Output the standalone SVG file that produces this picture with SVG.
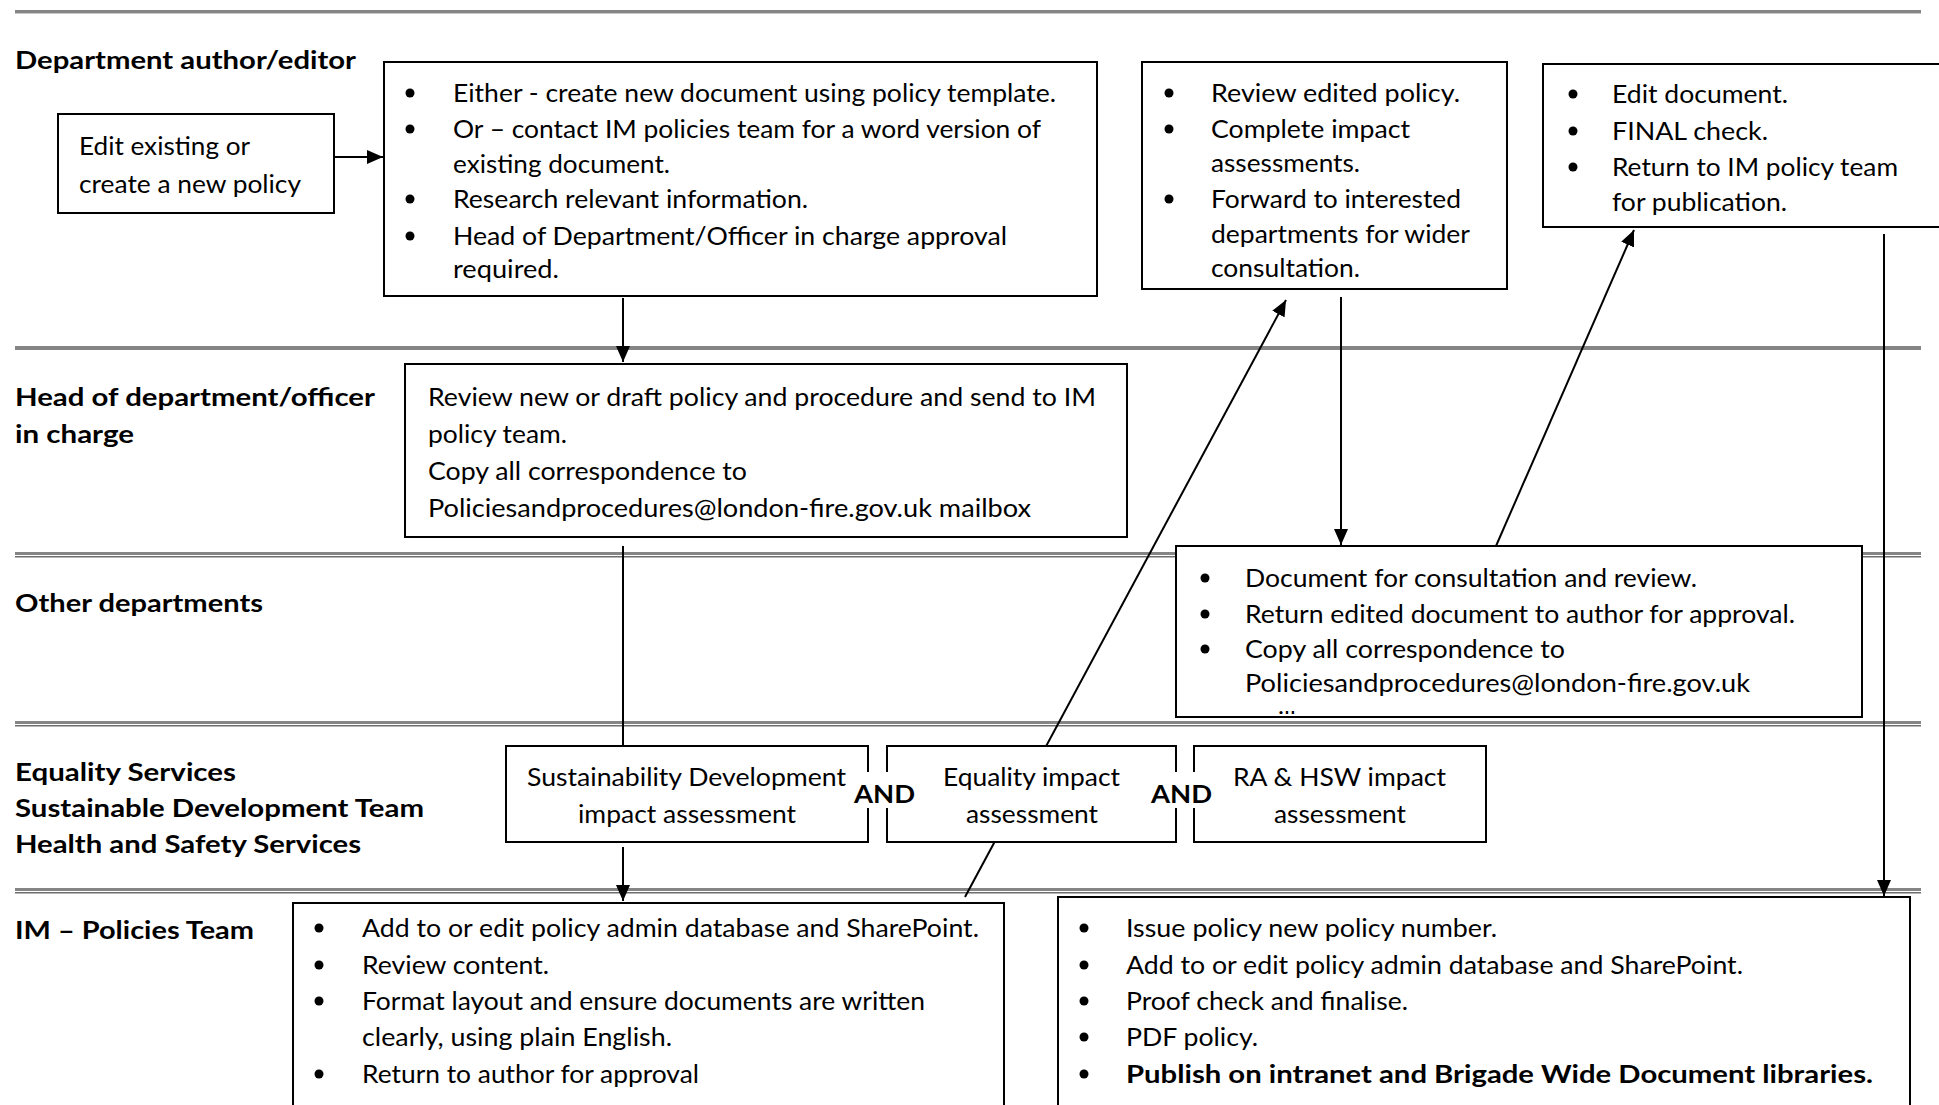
<svg xmlns="http://www.w3.org/2000/svg" width="1939" height="1105" viewBox="0 0 1939 1105">
<style>
.t{font-family:Lato,"Open Sans","Liberation Sans",sans-serif;font-size:25px;fill:#000}
.b{font-weight:700}
.box{fill:#fff;stroke:#000;stroke-width:2}
.c{stroke:#000;stroke-width:2;fill:none}
.ca{stroke:#000;stroke-width:2;fill:none;marker-end:url(#ah)}
.lane{fill:#858585}
.lane2{fill:#6e6e6e}
.dot{fill:#000}
</style>
<defs>
<marker id="ah" markerUnits="userSpaceOnUse" markerWidth="16" markerHeight="14" viewBox="0 0 16 14" refX="16" refY="7" orient="auto">
<path d="M0,0 L16,7 L0,14 Z" fill="#000"/>
</marker>
<clipPath id="clipF"><rect x="1177" y="547" width="684" height="167"/></clipPath>
</defs>
<rect width="1939" height="1105" fill="#fff"/>
<g id="lanes">
<rect class="lane" x="15" y="10" width="1906" height="3"/>
<rect x="15" y="13" width="1906" height="1" fill="#c8c8c8"/>
<rect class="lane" x="15" y="346" width="1906" height="4"/>
<rect class="lane" x="15" y="552" width="1906" height="3"/>
<rect class="lane2" x="15" y="556" width="1906" height="1.5"/>
<rect class="lane" x="15" y="721" width="1906" height="3"/>
<rect class="lane2" x="15" y="725" width="1906" height="1.5"/>
<rect class="lane" x="15" y="888" width="1906" height="3"/>
<rect class="lane2" x="15" y="892" width="1906" height="1.5"/>
</g>
<g id="lane-labels" class="t b">
<text x="15" y="69" textLength="341" lengthAdjust="spacingAndGlyphs">Department author/editor</text>
<text x="15" y="406" textLength="360" lengthAdjust="spacingAndGlyphs">Head of department/officer</text>
<text x="15" y="443" textLength="119" lengthAdjust="spacingAndGlyphs">in charge</text>
<text x="15" y="612" textLength="248" lengthAdjust="spacingAndGlyphs">Other departments</text>
<text x="15" y="781" textLength="221" lengthAdjust="spacingAndGlyphs">Equality Services</text>
<text x="15" y="817" textLength="409" lengthAdjust="spacingAndGlyphs">Sustainable Development Team</text>
<text x="15" y="853" textLength="346" lengthAdjust="spacingAndGlyphs">Health and Safety Services</text>
<text x="15" y="939" textLength="239" lengthAdjust="spacingAndGlyphs">IM – Policies Team</text>
</g>
<g id="connectors">
<line class="ca" x1="335" y1="157" x2="383" y2="157"/>
<line class="ca" x1="623" y1="298" x2="623" y2="362"/>
<line class="c" x1="623" y1="546" x2="623" y2="746"/>
<line class="ca" x1="623" y1="847" x2="623" y2="901"/>
<line class="ca" x1="965" y1="897" x2="1286" y2="300"/>
<line class="ca" x1="1341" y1="297" x2="1341" y2="545"/>
<line class="ca" x1="1496" y1="546" x2="1634" y2="230"/>
<line class="ca" x1="1884" y1="234" x2="1884" y2="896"/>
</g>
<g id="node-edit">
<rect class="box" x="58" y="114" width="276" height="99"/>
<text class="t" x="79" y="155" textLength="171" lengthAdjust="spacingAndGlyphs">Edit existing or</text>
<text class="t" x="79" y="193" textLength="222" lengthAdjust="spacingAndGlyphs">create a new policy</text>
</g>
<g id="node-create">
<rect class="box" x="384" y="62" width="713" height="234"/>
<circle class="dot" cx="410" cy="93" r="4.5"/>
<circle class="dot" cx="410" cy="129" r="4.5"/>
<circle class="dot" cx="410" cy="199" r="4.5"/>
<circle class="dot" cx="410" cy="236" r="4.5"/>
<text class="t" x="453" y="102" textLength="603" lengthAdjust="spacingAndGlyphs">Either - create new document using policy template.</text>
<text class="t" x="453" y="138" textLength="588" lengthAdjust="spacingAndGlyphs">Or – contact IM policies team for a word version of</text>
<text class="t" x="453" y="173" textLength="217" lengthAdjust="spacingAndGlyphs">existing document.</text>
<text class="t" x="453" y="208" textLength="355" lengthAdjust="spacingAndGlyphs">Research relevant information.</text>
<text class="t" x="453" y="245" textLength="554" lengthAdjust="spacingAndGlyphs">Head of Department/Officer in charge approval</text>
<text class="t" x="453" y="278" textLength="106" lengthAdjust="spacingAndGlyphs">required.</text>
</g>
<g id="node-review-edited">
<rect class="box" x="1142" y="62" width="365" height="227"/>
<circle class="dot" cx="1169" cy="93" r="4.5"/>
<circle class="dot" cx="1169" cy="129" r="4.5"/>
<circle class="dot" cx="1169" cy="199" r="4.5"/>
<text class="t" x="1211" y="102" textLength="249" lengthAdjust="spacingAndGlyphs">Review edited policy.</text>
<text class="t" x="1211" y="138" textLength="199" lengthAdjust="spacingAndGlyphs">Complete impact</text>
<text class="t" x="1211" y="172" textLength="149" lengthAdjust="spacingAndGlyphs">assessments.</text>
<text class="t" x="1211" y="208" textLength="250" lengthAdjust="spacingAndGlyphs">Forward to interested</text>
<text class="t" x="1211" y="243" textLength="259" lengthAdjust="spacingAndGlyphs">departments for wider</text>
<text class="t" x="1211" y="277" textLength="149" lengthAdjust="spacingAndGlyphs">consultation.</text>
</g>
<g id="node-final">
<rect class="box" x="1543" y="64" width="410" height="163"/>
<circle class="dot" cx="1573" cy="94" r="4.5"/>
<circle class="dot" cx="1573" cy="131" r="4.5"/>
<circle class="dot" cx="1573" cy="167" r="4.5"/>
<text class="t" x="1612" y="103" textLength="176" lengthAdjust="spacingAndGlyphs">Edit document.</text>
<text class="t" x="1612" y="140" textLength="156" lengthAdjust="spacingAndGlyphs">FINAL check.</text>
<text class="t" x="1612" y="176" textLength="286" lengthAdjust="spacingAndGlyphs">Return to IM policy team</text>
<text class="t" x="1612" y="211" textLength="175" lengthAdjust="spacingAndGlyphs">for publication.</text>
</g>
<g id="node-head-review">
<rect class="box" x="405" y="364" width="722" height="173"/>
<text class="t" x="428" y="406" textLength="668" lengthAdjust="spacingAndGlyphs">Review new or draft policy and procedure and send to IM</text>
<text class="t" x="428" y="443" textLength="139" lengthAdjust="spacingAndGlyphs">policy team.</text>
<text class="t" x="428" y="480" textLength="319" lengthAdjust="spacingAndGlyphs">Copy all correspondence to</text>
<text class="t" x="428" y="517" textLength="603" lengthAdjust="spacingAndGlyphs">Policiesandprocedures@london-fire.gov.uk mailbox</text>
</g>
<g id="node-consultation">
<rect class="box" x="1176" y="546" width="686" height="171"/>
<circle class="dot" cx="1205" cy="578" r="4.5"/>
<circle class="dot" cx="1205" cy="614" r="4.5"/>
<circle class="dot" cx="1205" cy="649" r="4.5"/>
<text class="t" x="1245" y="587" textLength="452" lengthAdjust="spacingAndGlyphs">Document for consultation and review.</text>
<text class="t" x="1245" y="623" textLength="550" lengthAdjust="spacingAndGlyphs">Return edited document to author for approval.</text>
<text class="t" x="1245" y="658" textLength="320" lengthAdjust="spacingAndGlyphs">Copy all correspondence to</text>
<text class="t" x="1245" y="692" textLength="505" lengthAdjust="spacingAndGlyphs">Policiesandprocedures@london-fire.gov.uk</text>
<text class="t" x="1245" y="730" clip-path="url(#clipF)">mailbox</text>
</g>
<g id="node-sustainability">
<rect class="box" x="506" y="746" width="362" height="96"/>
<text class="t" x="527" y="786" textLength="319" lengthAdjust="spacingAndGlyphs">Sustainability Development</text>
<text class="t" x="578" y="823" textLength="218" lengthAdjust="spacingAndGlyphs">impact assessment</text>
</g>
<g id="node-equality">
<rect class="box" x="887" y="746" width="289" height="96"/>
<text class="t" x="943" y="786" textLength="177" lengthAdjust="spacingAndGlyphs">Equality impact</text>
<text class="t" x="966" y="823" textLength="132" lengthAdjust="spacingAndGlyphs">assessment</text>
</g>
<g id="node-rahsw">
<rect class="box" x="1194" y="746" width="292" height="96"/>
<text class="t" x="1233" y="786" textLength="213" lengthAdjust="spacingAndGlyphs">RA &amp; HSW impact</text>
<text class="t" x="1274" y="823" textLength="132" lengthAdjust="spacingAndGlyphs">assessment</text>
</g>
<g id="and-labels">
<rect x="853" y="772" width="64" height="36" fill="#fff"/>
<text class="t b" x="854" y="803" textLength="61" lengthAdjust="spacingAndGlyphs">AND</text>
<rect x="1150" y="772" width="64" height="36" fill="#fff"/>
<text class="t b" x="1151" y="803" textLength="61" lengthAdjust="spacingAndGlyphs">AND</text>
</g>
<g id="node-im-format">
<rect class="box" x="293" y="903" width="711" height="220"/>
<circle class="dot" cx="319" cy="928" r="4.5"/>
<circle class="dot" cx="319" cy="965" r="4.5"/>
<circle class="dot" cx="319" cy="1001" r="4.5"/>
<circle class="dot" cx="319" cy="1074" r="4.5"/>
<text class="t" x="362" y="937" textLength="617" lengthAdjust="spacingAndGlyphs">Add to or edit policy admin database and SharePoint.</text>
<text class="t" x="362" y="974" textLength="187" lengthAdjust="spacingAndGlyphs">Review content.</text>
<text class="t" x="362" y="1010" textLength="563" lengthAdjust="spacingAndGlyphs">Format layout and ensure documents are written</text>
<text class="t" x="362" y="1046" textLength="310" lengthAdjust="spacingAndGlyphs">clearly, using plain English.</text>
<text class="t" x="362" y="1083" textLength="337" lengthAdjust="spacingAndGlyphs">Return to author for approval</text>
</g>
<g id="node-im-publish">
<rect class="box" x="1058" y="897" width="852" height="226"/>
<circle class="dot" cx="1084" cy="928" r="4.5"/>
<circle class="dot" cx="1084" cy="965" r="4.5"/>
<circle class="dot" cx="1084" cy="1001" r="4.5"/>
<circle class="dot" cx="1084" cy="1037" r="4.5"/>
<circle class="dot" cx="1084" cy="1074" r="4.5"/>
<text class="t" x="1126" y="937" textLength="371" lengthAdjust="spacingAndGlyphs">Issue policy new policy number.</text>
<text class="t" x="1126" y="974" textLength="617" lengthAdjust="spacingAndGlyphs">Add to or edit policy admin database and SharePoint.</text>
<text class="t" x="1126" y="1010" textLength="282" lengthAdjust="spacingAndGlyphs">Proof check and finalise.</text>
<text class="t" x="1126" y="1046" textLength="132" lengthAdjust="spacingAndGlyphs">PDF policy.</text>
<text class="t b" x="1126" y="1083" textLength="747" lengthAdjust="spacingAndGlyphs">Publish on intranet and Brigade Wide Document libraries.</text>
</g>
</svg>
